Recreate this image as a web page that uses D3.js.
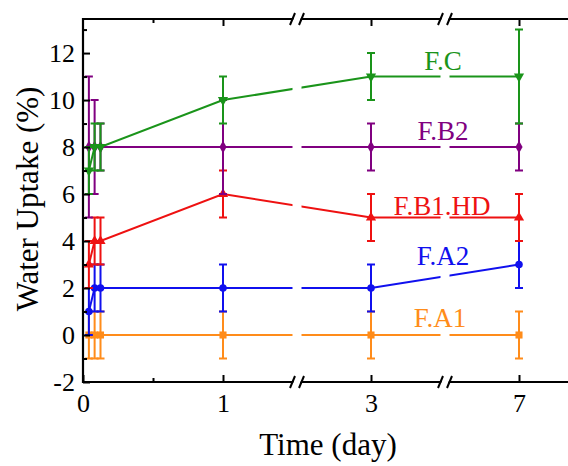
<!DOCTYPE html>
<html>
<head>
<meta charset="utf-8">
<script src="https://cdn.jsdelivr.net/npm/d3@7"></script>
<style>
  body { margin: 0; background: #fff; }
  text { font-family: "Liberation Serif", "Times New Roman", serif; }
</style>
</head>
<body>
<div id="chart-area"></div>
<script>
// time in days (first three points are 1h, 2h, 3h)
var times = [0.042, 0.083, 0.125, 1, 3, 7];
var xTicks = [0, 1, 3, 7];
var xMinor = [0.5];
var yTicks = [-2, 0, 2, 4, 6, 8, 10, 12];
var yMinor = [-1, 1, 3, 5, 7, 9, 11, 13];

var fA1 = [0, 0, 0, 0, 0, 0],    errA1 = [1, 1, 1, 1, 1, 1];
var fA2 = [1, 2, 2, 2, 2, 3],    errA2 = [1, 1, 1, 1, 1, 1];
var fB1 = [3, 4, 4, 6, 5, 5],    errB1 = [1, 1, 1, 1, 1, 1];
var fB2 = [8, 8, 8, 8, 8, 8],    errB2 = [3, 2, 1, 2, 1, 1];
var fC  = [7, 8, 8, 10, 11, 11], errC  = [1, 1, 1, 1, 1, 2];

var seriesNames = ["F.A1", "F.A2", "F.B1.HD", "F.B2", "F.C"];
var seriesColors = ["#ff8c1a", "#1010ee", "#ee1111", "#800080", "#1a941a"];

var width = 568, height = 466;
var plotL = 83, plotT = 19, plotB = 382, plotR = 600;

var svg = d3.select("#chart-area")
    .append("svg")
    .attr("width", width)
    .attr("height", height);

// broken axis: piecewise linear scale
var xScale = d3.scaleLinear()
    .domain([0, 1, 3, 7])
    .range([plotL, 223, 371, 519]);

var yScale = d3.scaleLinear()
    .domain([-2, 13.45])
    .range([plotB, plotT]);

var breaks = [297, 445];

var series = [
    {name: seriesNames[0], color: seriesColors[0], vals: fA1, err: errA1, sym: d3.symbolSquare, size: 50, lx: 440, ly: 327},
    {name: seriesNames[1], color: seriesColors[1], vals: fA2, err: errA2, sym: d3.symbolCircle, size: 45, lx: 443, ly: 265},
    {name: seriesNames[2], color: seriesColors[2], vals: fB1, err: errB1, sym: d3.symbolTriangle, size: 45, lx: 442, ly: 215},
    {name: seriesNames[3], color: seriesColors[3], vals: fB2, err: errB2, sym: d3.symbolDiamond, size: 45, lx: 443, ly: 140},
    {name: seriesNames[4], color: seriesColors[4], vals: fC, err: errC, sym: d3.symbolTriangle, size: 45, lx: 443, ly: 70, flip: true}
];

var line = d3.line()
    .x(d => xScale(d.t))
    .y(d => yScale(d.v));

var plot = svg.append("g");

series.forEach(function(s) {
    var pts = times.map(function(t, i) { return {t: t, v: s.vals[i], e: s.err[i]}; });
    var g = plot.append("g");

    g.append("path")
        .datum(pts)
        .attr("d", line)
        .attr("fill", "none")
        .attr("stroke", s.color)
        .attr("stroke-width", 2);

    g.selectAll(".eb")
        .data(pts)
        .enter()
        .append("path")
        .attr("d", function(d) {
            var x = xScale(d.t), y1 = yScale(d.v + d.e), y2 = yScale(d.v - d.e);
            return "M" + x + "," + y1 + "V" + y2 +
                   "M" + (x - 4) + "," + y1 + "H" + (x + 4) +
                   "M" + (x - 4) + "," + y2 + "H" + (x + 4);
        })
        .attr("fill", "none")
        .attr("stroke", s.color)
        .attr("stroke-width", 2);

    g.selectAll(".mk")
        .data(pts)
        .enter()
        .append("path")
        .attr("d", d3.symbol().type(s.sym).size(s.size))
        .attr("transform", d => "translate(" + xScale(d.t) + "," + yScale(d.v) + ")" + (s.flip ? " rotate(180)" : ""))
        .attr("fill", s.color);
});

// gaps in the data lines at the axis breaks
breaks.forEach(function(b) {
    svg.append("rect")
        .attr("x", b - 4.5)
        .attr("y", plotT + 2)
        .attr("width", 9)
        .attr("height", plotB - plotT - 4)
        .attr("fill", "#fff");
});

// series labels
series.forEach(function(s) {
    svg.append("text")
        .attr("x", s.lx)
        .attr("y", s.ly)
        .attr("text-anchor", "middle")
        .attr("font-size", 27)
        .attr("fill", s.color)
        .text(s.name);
});

var fmt = d => String(d);

// y axis
var yAxis = svg.append("g")
    .attr("transform", "translate(" + plotL + ",0)")
    .call(d3.axisLeft(yScale).tickValues(yTicks).tickSize(-7).tickPadding(8).tickFormat(fmt));
yAxis.select(".domain").remove();
yAxis.selectAll("line").attr("stroke-width", 2);
yAxis.selectAll("text").attr("font-size", 26).attr("fill", "#000").style("font-family", "Liberation Serif");

var yAxisMinor = svg.append("g")
    .attr("transform", "translate(" + plotL + ",0)")
    .call(d3.axisLeft(yScale).tickValues(yMinor).tickSize(-4).tickFormat(""));
yAxisMinor.select(".domain").remove();
yAxisMinor.selectAll("line").attr("stroke-width", 2);

// bottom x axis
var xAxis = svg.append("g")
    .attr("transform", "translate(0," + plotB + ")")
    .call(d3.axisBottom(xScale).tickValues(xTicks).tickSize(-7).tickPadding(12).tickFormat(fmt));
xAxis.select(".domain").remove();
xAxis.selectAll("line").attr("stroke-width", 2);
xAxis.selectAll("text").attr("font-size", 26).attr("fill", "#000").style("font-family", "Liberation Serif");

var xAxisMinor = svg.append("g")
    .attr("transform", "translate(0," + plotB + ")")
    .call(d3.axisBottom(xScale).tickValues(xMinor).tickSize(-4).tickFormat(""));
xAxisMinor.select(".domain").remove();
xAxisMinor.selectAll("line").attr("stroke-width", 2);

// top x axis ticks
var xTop = svg.append("g")
    .attr("transform", "translate(0," + plotT + ")")
    .call(d3.axisTop(xScale).tickValues(xTicks.slice(1)).tickSize(-7).tickFormat(""));
xTop.select(".domain").remove();
xTop.selectAll("line").attr("stroke-width", 2);

var xTopMinor = svg.append("g")
    .attr("transform", "translate(0," + plotT + ")")
    .call(d3.axisTop(xScale).tickValues(xMinor).tickSize(-4).tickFormat(""));
xTopMinor.select(".domain").remove();
xTopMinor.selectAll("line").attr("stroke-width", 2);

// frame
svg.append("path")
    .attr("d", "M" + plotR + "," + plotT + "H" + plotL + "V" + plotB + "H" + plotR)
    .attr("fill", "none")
    .attr("stroke", "#000")
    .attr("stroke-width", 2.2);

// break marks on top and bottom axes
[plotT, plotB].forEach(function(yy) {
    breaks.forEach(function(b) {
        svg.append("polygon")
            .attr("points", [[b - 6, yy + 6], [b - 1, yy - 6], [b + 6, yy - 6], [b + 1, yy + 6]].join(" "))
            .attr("fill", "#fff");
        svg.append("path")
            .attr("d", "M" + (b - 7) + "," + (yy + 6) + "L" + (b - 2) + "," + (yy - 6) +
                       "M" + (b + 2) + "," + (yy + 6) + "L" + (b + 7) + "," + (yy - 6))
            .attr("stroke", "#000")
            .attr("stroke-width", 2);
    });
});

// axis titles
svg.append("text")
    .attr("x", 328)
    .attr("y", 455)
    .attr("text-anchor", "middle")
    .attr("font-size", 31)
    .text("Time (day)");

svg.append("text")
    .attr("transform", "rotate(-90)")
    .attr("x", -199)
    .attr("y", 38)
    .attr("text-anchor", "middle")
    .attr("font-size", 31)
    .text("Water Uptake (%)");
</script>
</body>
</html>
